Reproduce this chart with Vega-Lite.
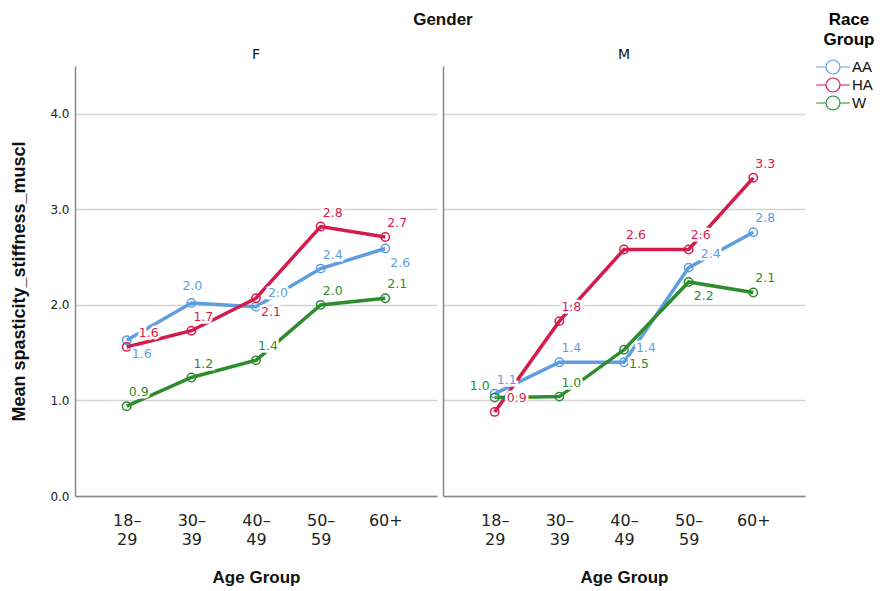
{
  "$schema": "https://vega.github.io/schema/vega-lite/v6.json",
  "background": "white",
  "padding": {"left": 10, "top": 11, "right": 5, "bottom": 5},
  "title": {"text": "Gender", "fontSize": 17, "fontWeight": "bold", "font": "Liberation Sans", "anchor": "middle", "offset": 19, "dy": 36, "color": "#111"},
  "data": {
    "values": [
      {"gender": "F", "age": "18–29", "race": "AA", "mean": 1.63},
      {"gender": "F", "age": "30–39", "race": "AA", "mean": 2.02},
      {"gender": "F", "age": "40–49", "race": "AA", "mean": 1.98},
      {"gender": "F", "age": "50–59", "race": "AA", "mean": 2.38},
      {"gender": "F", "age": "60+", "race": "AA", "mean": 2.59},
      {"gender": "F", "age": "18–29", "race": "HA", "mean": 1.56},
      {"gender": "F", "age": "30–39", "race": "HA", "mean": 1.73},
      {"gender": "F", "age": "40–49", "race": "HA", "mean": 2.07},
      {"gender": "F", "age": "50–59", "race": "HA", "mean": 2.82},
      {"gender": "F", "age": "60+", "race": "HA", "mean": 2.71},
      {"gender": "F", "age": "18–29", "race": "W", "mean": 0.94},
      {"gender": "F", "age": "30–39", "race": "W", "mean": 1.24},
      {"gender": "F", "age": "40–49", "race": "W", "mean": 1.42},
      {"gender": "F", "age": "50–59", "race": "W", "mean": 2.0},
      {"gender": "F", "age": "60+", "race": "W", "mean": 2.07},
      {"gender": "M", "age": "18–29", "race": "AA", "mean": 1.07},
      {"gender": "M", "age": "30–39", "race": "AA", "mean": 1.4},
      {"gender": "M", "age": "40–49", "race": "AA", "mean": 1.4},
      {"gender": "M", "age": "50–59", "race": "AA", "mean": 2.39},
      {"gender": "M", "age": "60+", "race": "AA", "mean": 2.76},
      {"gender": "M", "age": "18–29", "race": "HA", "mean": 0.88},
      {"gender": "M", "age": "30–39", "race": "HA", "mean": 1.83},
      {"gender": "M", "age": "40–49", "race": "HA", "mean": 2.58},
      {"gender": "M", "age": "50–59", "race": "HA", "mean": 2.58},
      {"gender": "M", "age": "60+", "race": "HA", "mean": 3.33},
      {"gender": "M", "age": "18–29", "race": "W", "mean": 1.03},
      {"gender": "M", "age": "30–39", "race": "W", "mean": 1.04},
      {"gender": "M", "age": "40–49", "race": "W", "mean": 1.53},
      {"gender": "M", "age": "50–59", "race": "W", "mean": 2.24},
      {"gender": "M", "age": "60+", "race": "W", "mean": 2.13}
    ]
  },
  "config": {
    "view": {"stroke": null},
    "font": "Liberation Sans",
    "axis": {"domainColor": "#888", "domainWidth": 1.5, "ticks": false, "labelColor": "#222", "titleColor": "#111", "titleFontWeight": "bold", "titleFont": "Liberation Sans", "labelFont": "DejaVu Sans"},
    "legend": {"labelFont": "Liberation Sans"}
  },
  "spacing": 6,
  "hconcat": [
    {
      "width": 362,
      "height": 430,
      "title": {"text": "F", "fontSize": 14, "fontWeight": "normal", "font": "DejaVu Sans", "offset": 4, "color": "#111"},
      "transform": [{"filter": "datum.gender == 'F'"}],
      "encoding": {
        "x": {"field": "age", "type": "ordinal", "sort": ["18–29", "30–39", "40–49", "50–59", "60+"], "scale": {"type": "point", "padding": 0.8},
          "axis": {"title": "Age Group", "titleFontSize": 17, "titlePadding": 22, "labelAngle": 0, "labelFontSize": 16, "labelPadding": 16, "labelLineHeight": 19,
            "labelExpr": "length(datum.value) > 3 ? [substring(datum.value,0,3), substring(datum.value,3)] : datum.value"}},
        "y": {"field": "mean", "type": "quantitative", "scale": {"domain": [0, 4.5], "nice": false},
          "axis": {"title": "Mean spasticity_stiffness_muscl", "titleFontSize": 18, "titlePadding": 21, "values": [0, 1, 2, 3, 4], "format": ".1f", "labelFontSize": 12, "labelPadding": 6, "grid": true, "gridColor": "#d4d4d4", "gridWidth": 1.5}},
        "color": {"field": "race", "type": "nominal", "scale": {"domain": ["AA", "HA", "W"], "range": ["#5e9ee0", "#d41c4c", "#2d8c2d"]},
          "legend": {"title": ["Race", "Group"], "orient": "none", "legendX": 749, "legendY": -54, "titleFontSize": 17, "titleFontWeight": "bold", "titleAlign": "center", "titleAnchor": "middle", "titlePadding": 10, "titleLineHeight": 20, "labelFontSize": 15, "labelColor": "#111", "labelOffset": 11,
            "symbolType": "M-2.4,0L-1,0M1,0L2.4,0M1,0A1,1,0,1,1,-1,0A1,1,0,1,1,1,0", "symbolSize": 196, "symbolStrokeWidth": 1.2, "symbolFillColor": "white", "rowPadding": -2,
            "encode": {"symbols": {"update": {"fill": {"value": "white"}, "fillOpacity": {"value": 0}}}}}}
      },
      "layer": [
        {"mark": {"type": "line", "strokeWidth": 3.5}},
        {"mark": {"type": "point", "filled": false, "size": 70, "strokeWidth": 1.5, "opacity": 1}},
        {"transform": [{"filter": "indexof(['F|HA|18–29','F|AA|40–49','M|AA|40–49','M|AA|50–59','M|HA|18–29','F|AA|18–29','F|AA|60+','F|HA|40–49','M|W|40–49','M|W|50–59','M|W|18–29','F|AA|30–39'], datum.gender + '|' + datum.race + '|' + datum.age) < 0"}],
          "layer": [
            {"mark": {"type": "text", "dx": 12, "dy": -14, "fontSize": 12.5, "font": "DejaVu Sans", "stroke": "white", "strokeWidth": 5, "fill": "white"}, "encoding": {"text": {"field": "mean", "type": "quantitative", "format": ".1f"}, "color": {"value": "white"}}},
            {"mark": {"type": "text", "dx": 12, "dy": -14, "fontSize": 12.5, "font": "DejaVu Sans"}, "encoding": {"text": {"field": "mean", "type": "quantitative", "format": ".1f"}}}
          ]},
        {"transform": [{"filter": "indexof(['F|HA|18–29','F|AA|40–49','M|AA|40–49','M|AA|50–59','M|HA|18–29'], datum.gender + '|' + datum.race + '|' + datum.age) >= 0"}],
          "layer": [
            {"mark": {"type": "text", "dx": 22, "dy": -14, "fontSize": 12.5, "font": "DejaVu Sans", "stroke": "white", "strokeWidth": 5, "fill": "white"}, "encoding": {"text": {"field": "mean", "type": "quantitative", "format": ".1f"}, "color": {"value": "white"}}},
            {"mark": {"type": "text", "dx": 22, "dy": -14, "fontSize": 12.5, "font": "DejaVu Sans"}, "encoding": {"text": {"field": "mean", "type": "quantitative", "format": ".1f"}}}
          ]},
        {"transform": [{"filter": "indexof(['F|AA|18–29','F|AA|60+','F|HA|40–49','M|W|40–49','M|W|50–59'], datum.gender + '|' + datum.race + '|' + datum.age) >= 0"}],
          "layer": [
            {"mark": {"type": "text", "dx": 15, "dy": 14, "fontSize": 12.5, "font": "DejaVu Sans", "stroke": "white", "strokeWidth": 5, "fill": "white"}, "encoding": {"text": {"field": "mean", "type": "quantitative", "format": ".1f"}, "color": {"value": "white"}}},
            {"mark": {"type": "text", "dx": 15, "dy": 14, "fontSize": 12.5, "font": "DejaVu Sans"}, "encoding": {"text": {"field": "mean", "type": "quantitative", "format": ".1f"}}}
          ]},
        {"transform": [{"filter": "indexof(['M|W|18–29'], datum.gender + '|' + datum.race + '|' + datum.age) >= 0"}],
          "layer": [
            {"mark": {"type": "text", "dx": -15, "dy": -12, "fontSize": 12.5, "font": "DejaVu Sans", "stroke": "white", "strokeWidth": 5, "fill": "white"}, "encoding": {"text": {"field": "mean", "type": "quantitative", "format": ".1f"}, "color": {"value": "white"}}},
            {"mark": {"type": "text", "dx": -15, "dy": -12, "fontSize": 12.5, "font": "DejaVu Sans"}, "encoding": {"text": {"field": "mean", "type": "quantitative", "format": ".1f"}}}
          ]},
        {"transform": [{"filter": "indexof(['F|AA|30–39'], datum.gender + '|' + datum.race + '|' + datum.age) >= 0"}],
          "layer": [
            {"mark": {"type": "text", "dx": 1, "dy": -17, "fontSize": 12.5, "font": "DejaVu Sans", "stroke": "white", "strokeWidth": 5, "fill": "white"}, "encoding": {"text": {"field": "mean", "type": "quantitative", "format": ".1f"}, "color": {"value": "white"}}},
            {"mark": {"type": "text", "dx": 1, "dy": -17, "fontSize": 12.5, "font": "DejaVu Sans"}, "encoding": {"text": {"field": "mean", "type": "quantitative", "format": ".1f"}}}
          ]}
      ]
    },
    {
      "width": 362,
      "height": 430,
      "title": {"text": "M", "fontSize": 14, "fontWeight": "normal", "font": "DejaVu Sans", "offset": 4, "color": "#111"},
      "transform": [{"filter": "datum.gender == 'M'"}],
      "encoding": {
        "x": {"field": "age", "type": "ordinal", "sort": ["18–29", "30–39", "40–49", "50–59", "60+"], "scale": {"type": "point", "padding": 0.8},
          "axis": {"title": "Age Group", "titleFontSize": 17, "titlePadding": 22, "labelAngle": 0, "labelFontSize": 16, "labelPadding": 16, "labelLineHeight": 19,
            "labelExpr": "length(datum.value) > 3 ? [substring(datum.value,0,3), substring(datum.value,3)] : datum.value"}},
        "y": {"field": "mean", "type": "quantitative", "scale": {"domain": [0, 4.5], "nice": false},
          "axis": {"title": null, "values": [0, 1, 2, 3, 4], "labels": false, "grid": true, "gridColor": "#d4d4d4", "gridWidth": 1.5}},
        "color": {"field": "race", "type": "nominal", "scale": {"domain": ["AA", "HA", "W"], "range": ["#5e9ee0", "#d41c4c", "#2d8c2d"]}}
      },
      "layer": [
        {"mark": {"type": "line", "strokeWidth": 3.5}},
        {"mark": {"type": "point", "filled": false, "size": 70, "strokeWidth": 1.5, "opacity": 1}},
        {"transform": [{"filter": "indexof(['F|HA|18–29','F|AA|40–49','M|AA|40–49','M|AA|50–59','M|HA|18–29','F|AA|18–29','F|AA|60+','F|HA|40–49','M|W|40–49','M|W|50–59','M|W|18–29','F|AA|30–39'], datum.gender + '|' + datum.race + '|' + datum.age) < 0"}],
          "layer": [
            {"mark": {"type": "text", "dx": 12, "dy": -14, "fontSize": 12.5, "font": "DejaVu Sans", "stroke": "white", "strokeWidth": 5, "fill": "white"}, "encoding": {"text": {"field": "mean", "type": "quantitative", "format": ".1f"}, "color": {"value": "white"}}},
            {"mark": {"type": "text", "dx": 12, "dy": -14, "fontSize": 12.5, "font": "DejaVu Sans"}, "encoding": {"text": {"field": "mean", "type": "quantitative", "format": ".1f"}}}
          ]},
        {"transform": [{"filter": "indexof(['F|HA|18–29','F|AA|40–49','M|AA|40–49','M|AA|50–59','M|HA|18–29'], datum.gender + '|' + datum.race + '|' + datum.age) >= 0"}],
          "layer": [
            {"mark": {"type": "text", "dx": 22, "dy": -14, "fontSize": 12.5, "font": "DejaVu Sans", "stroke": "white", "strokeWidth": 5, "fill": "white"}, "encoding": {"text": {"field": "mean", "type": "quantitative", "format": ".1f"}, "color": {"value": "white"}}},
            {"mark": {"type": "text", "dx": 22, "dy": -14, "fontSize": 12.5, "font": "DejaVu Sans"}, "encoding": {"text": {"field": "mean", "type": "quantitative", "format": ".1f"}}}
          ]},
        {"transform": [{"filter": "indexof(['F|AA|18–29','F|AA|60+','F|HA|40–49','M|W|40–49','M|W|50–59'], datum.gender + '|' + datum.race + '|' + datum.age) >= 0"}],
          "layer": [
            {"mark": {"type": "text", "dx": 15, "dy": 14, "fontSize": 12.5, "font": "DejaVu Sans", "stroke": "white", "strokeWidth": 5, "fill": "white"}, "encoding": {"text": {"field": "mean", "type": "quantitative", "format": ".1f"}, "color": {"value": "white"}}},
            {"mark": {"type": "text", "dx": 15, "dy": 14, "fontSize": 12.5, "font": "DejaVu Sans"}, "encoding": {"text": {"field": "mean", "type": "quantitative", "format": ".1f"}}}
          ]},
        {"transform": [{"filter": "indexof(['M|W|18–29'], datum.gender + '|' + datum.race + '|' + datum.age) >= 0"}],
          "layer": [
            {"mark": {"type": "text", "dx": -15, "dy": -12, "fontSize": 12.5, "font": "DejaVu Sans", "stroke": "white", "strokeWidth": 5, "fill": "white"}, "encoding": {"text": {"field": "mean", "type": "quantitative", "format": ".1f"}, "color": {"value": "white"}}},
            {"mark": {"type": "text", "dx": -15, "dy": -12, "fontSize": 12.5, "font": "DejaVu Sans"}, "encoding": {"text": {"field": "mean", "type": "quantitative", "format": ".1f"}}}
          ]}
      ]
    }
  ]
}
